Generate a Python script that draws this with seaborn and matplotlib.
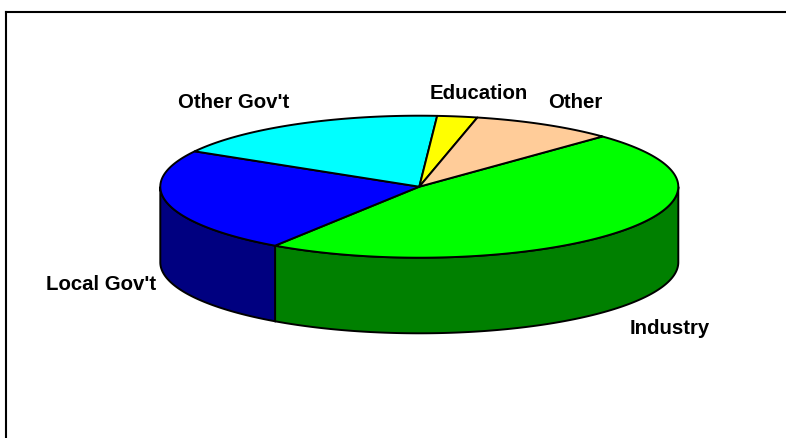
import numpy as np
import matplotlib
matplotlib.use('Agg')
import matplotlib.pyplot as plt
import seaborn as sns

# Data
sectors = ["Industry", "Local Gov't", "Other Gov't", "Education", "Other"]
shares = [46.9, 23.9, 17.8, 2.5, 8.9]
top_colors = ['#00FF00', '#0000FF', '#00FFFF', '#FFFF00', '#FFCC99']
wall_colors = ['#008000', '#000080', '#008080', '#808000', '#806640']

# Pie geometry, in pixels of the picture
cx, cy = 419.3, 187.7
rx, ry = 259, 71
depth = 75.6
start_angle = 45

# label position (centre of the text) per sector
label_x = [670, 101.5, 234, 479, 575]
label_y = [329, 285, 102.5, 93, 102]

sns.set_theme(style='white')
plt.rcParams['font.family'] = ['Liberation Sans', 'DejaVu Sans']

fig = plt.figure(figsize=(7.86, 4.39), dpi=100)
ax = fig.add_axes([6.5 / 786, 0, 1 - 6.5 / 786, 1 - 12.5 / 439])
ax.set_xlim(6.5, 786)
ax.set_ylim(439, 12.5)
ax.set_xticks([])
ax.set_yticks([])
sns.despine(ax=ax, top=False, left=False, right=True, bottom=True)
for side in ['top', 'left']:
    ax.spines[side].set_color('black')
    ax.spines[side].set_linewidth(1.5)


def rim(a1, a2, n=200):
    t = np.radians(np.linspace(a1, a2, n))
    return cx + rx * np.cos(t), cy - ry * np.sin(t)


# angles run clockwise from the start angle
edges = start_angle - np.cumsum([0] + shares) * 3.6

# side wall first, only the front half (below the centre line) shows
for i in range(len(shares)):
    hi = edges[i] % 360
    lo = hi - shares[i] * 3.6
    if hi <= 180:
        a1, a2 = max(lo, -180), min(hi, 0)
    else:
        a1, a2 = max(lo, 180), min(hi, 360)
    if a2 <= a1:
        continue
    x, y = rim(a1, a2)
    ax.fill(np.r_[x, x[::-1]], np.r_[y, y[::-1] + depth],
            facecolor=wall_colors[i], edgecolor='black', linewidth=1.4, zorder=2)

# top face
for i in range(len(shares)):
    x, y = rim(edges[i + 1], edges[i])
    ax.fill(np.r_[cx, x], np.r_[cy, y], facecolor=top_colors[i],
            edgecolor='black', linewidth=1.4, joinstyle='round', zorder=3)

for name, lx, ly in zip(sectors, label_x, label_y):
    ax.text(lx, ly, name, ha='center', va='center', fontsize=14.7,
            fontweight='bold', color='black', zorder=4)

fig.savefig('out.png', dpi=100, facecolor='white')
